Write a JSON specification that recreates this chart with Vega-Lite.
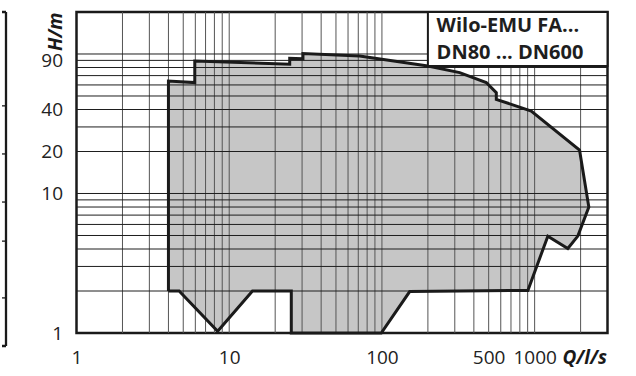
{
  "$schema": "https://vega.github.io/schema/vega-lite/v6.json",
  "autosize": "pad",
  "padding": {"left": 0, "top": 9, "right": 0, "bottom": 0},
  "background": "white",
  "spacing": 70.5,
  "bounds": "flush",
  "config": {
    "view": {"stroke": "#1a1a1a", "strokeWidth": 2.5},
    "font": "Open Sans"
  },
  "resolve": {"scale": {"x": "independent", "y": "independent"}},
  "datasets": {
    "outline": [
      {"i": 0, "q": 4.0, "h": 2.0},
      {"i": 1, "q": 4.0, "h": 64},
      {"i": 2, "q": 5.95, "h": 62.4},
      {"i": 3, "q": 5.95, "h": 89},
      {"i": 4, "q": 24.9, "h": 84.6},
      {"i": 5, "q": 24.9, "h": 93},
      {"i": 6, "q": 30.4, "h": 92.4},
      {"i": 7, "q": 30.4, "h": 100.7},
      {"i": 8, "q": 71.5, "h": 96.8},
      {"i": 9, "q": 200, "h": 82},
      {"i": 10, "q": 323, "h": 73.5},
      {"i": 11, "q": 482, "h": 62.4},
      {"i": 12, "q": 561, "h": 52.8},
      {"i": 13, "q": 561, "h": 47.3},
      {"i": 14, "q": 950, "h": 39},
      {"i": 15, "q": 1968, "h": 20.5},
      {"i": 16, "q": 2264, "h": 8.0},
      {"i": 17, "q": 1918, "h": 4.95},
      {"i": 18, "q": 1649, "h": 4.03},
      {"i": 19, "q": 1220, "h": 4.94},
      {"i": 20, "q": 903, "h": 2.02},
      {"i": 21, "q": 152, "h": 1.98},
      {"i": 22, "q": 99, "h": 1.0},
      {"i": 23, "q": 25.5, "h": 1.0},
      {"i": 24, "q": 25.5, "h": 2.0},
      {"i": 25, "q": 14.2, "h": 2.0},
      {"i": 26, "q": 8.4, "h": 1.03},
      {"i": 27, "q": 4.7, "h": 2.0},
      {"i": 28, "q": 4.0, "h": 2.0}
    ],
    "vgrid": [
      {"q": 2}, {"q": 3}, {"q": 4}, {"q": 5}, {"q": 6}, {"q": 7}, {"q": 8}, {"q": 9}, {"q": 10},
      {"q": 20}, {"q": 30}, {"q": 40}, {"q": 50}, {"q": 60}, {"q": 70}, {"q": 80}, {"q": 90}, {"q": 100},
      {"q": 200}, {"q": 300}, {"q": 400}, {"q": 500}, {"q": 600}, {"q": 700}, {"q": 800}, {"q": 900}, {"q": 1000},
      {"q": 2000}
    ],
    "hgrid": [
      {"h": 2}, {"h": 3}, {"h": 4}, {"h": 5}, {"h": 6}, {"h": 7}, {"h": 8}, {"h": 9}, {"h": 10},
      {"h": 20}, {"h": 30}, {"h": 40}, {"h": 50}, {"h": 60}, {"h": 70}, {"h": 80}, {"h": 90}, {"h": 100}
    ],
    "box": [{"q": 200, "q2": 3000, "h": 82, "h2": 200}],
    "boxtext": [
      {"q": 228, "h": 143.5, "text": "Wilo-EMU FA..."},
      {"q": 228, "h": 92.2, "text": "DN80 ... DN600"}
    ],
    "fragH": [
      {"fy": 1.0, "w": 2.5}, {"fy": 0.719, "w": 1.3}, {"fy": 0.575, "w": 1.3}, {"fy": 0.431, "w": 1.3},
      {"fy": 0.314, "w": 1.3}, {"fy": 0.144, "w": 1.3}, {"fy": 0.0, "w": 2.5}
    ],
    "fragV": [{"fx": 1}]
  },
  "hconcat": [
    {
      "width": 4,
      "height": 334,
      "view": {"stroke": null},
      "layer": [
        {
          "data": {"name": "fragH"},
          "mark": {"type": "rule", "color": "#1a1a1a"},
          "encoding": {
            "y": {"field": "fy", "type": "quantitative", "scale": {"domain": [0, 1], "nice": false, "zero": false}, "axis": null},
            "strokeWidth": {"field": "w", "type": "quantitative", "scale": null, "legend": null}
          }
        },
        {
          "data": {"name": "fragV"},
          "mark": {"type": "rule", "color": "#1a1a1a", "strokeWidth": 2.3},
          "encoding": {
            "x": {"field": "fx", "type": "quantitative", "scale": {"domain": [0, 1], "nice": false}, "axis": null}
          }
        }
      ]
    },
    {
      "width": 531,
      "height": 321,
      "encoding": {
        "x": {
          "field": "q", "type": "quantitative",
          "scale": {"type": "log", "domain": [1, 3000], "nice": false},
          "axis": {
            "values": [1, 10, 100, 500, 1000],
            "labelExpr": "datum.value",
            "grid": false, "ticks": false, "domain": false,
            "labelFont": "Open Sans", "labelFontSize": 19, "labelColor": "#222222",
            "labelPadding": 15, "labelFlush": false, "labelOverlap": false,
            "title": "Q/l/s", "titleFont": "Open Sans", "titleFontSize": 19,
            "titleFontWeight": "bold", "titleFontStyle": "italic", "titleColor": "#1a1a1a",
            "titleAlign": "right", "titleBaseline": "alphabetic",
            "titleX": 530, "titleY": 30
          }
        },
        "y": {
          "field": "h", "type": "quantitative",
          "scale": {"type": "log", "domain": [1, 200], "nice": false},
          "axis": {
            "values": [1, 10, 20, 40, 90],
            "labelExpr": "datum.value",
            "grid": false, "ticks": false, "domain": false,
            "labelFont": "Open Sans", "labelFontSize": 19, "labelColor": "#222222",
            "labelPadding": 14, "labelFlush": false, "labelOverlap": false,
            "title": "H/m", "titleFont": "Open Sans", "titleFontSize": 19,
            "titleFontWeight": "bold", "titleFontStyle": "italic", "titleColor": "#1a1a1a",
            "titleAngle": -90, "titleAlign": "right", "titleBaseline": "middle",
            "titleX": -21, "titleY": 0
          }
        }
      },
      "layer": [
        {
          "data": {"name": "outline"},
          "mark": {"type": "line", "fill": "#c6c6c6", "stroke": "#c6c6c6", "strokeWidth": 0.5},
          "encoding": {
            "order": {"field": "i", "type": "quantitative"}
          }
        },
        {
          "data": {"name": "vgrid"},
          "mark": {"type": "rule", "color": "#555555", "strokeWidth": 1},
          "encoding": {
            "y": null
          }
        },
        {
          "data": {"name": "hgrid"},
          "mark": {"type": "rule", "color": "#1e1e1e", "strokeWidth": 1},
          "encoding": {
            "x": null
          }
        },
        {
          "data": {"name": "outline"},
          "mark": {"type": "line", "color": "#1a1a1a", "strokeWidth": 3, "strokeJoin": "miter"},
          "encoding": {
            "order": {"field": "i", "type": "quantitative"}
          }
        },
        {
          "data": {"name": "box"},
          "mark": {"type": "rect", "fill": "white", "stroke": "#1a1a1a", "strokeWidth": 2},
          "encoding": {
            "x2": {"field": "q2"},
            "y2": {"field": "h2"}
          }
        },
        {
          "data": {"name": "boxtext"},
          "mark": {"type": "text", "align": "left", "baseline": "alphabetic", "font": "Open Sans", "fontSize": 20, "fontWeight": "bold", "color": "#1e1e1e"},
          "encoding": {
            "text": {"field": "text"}
          }
        }
      ]
    }
  ]
}
